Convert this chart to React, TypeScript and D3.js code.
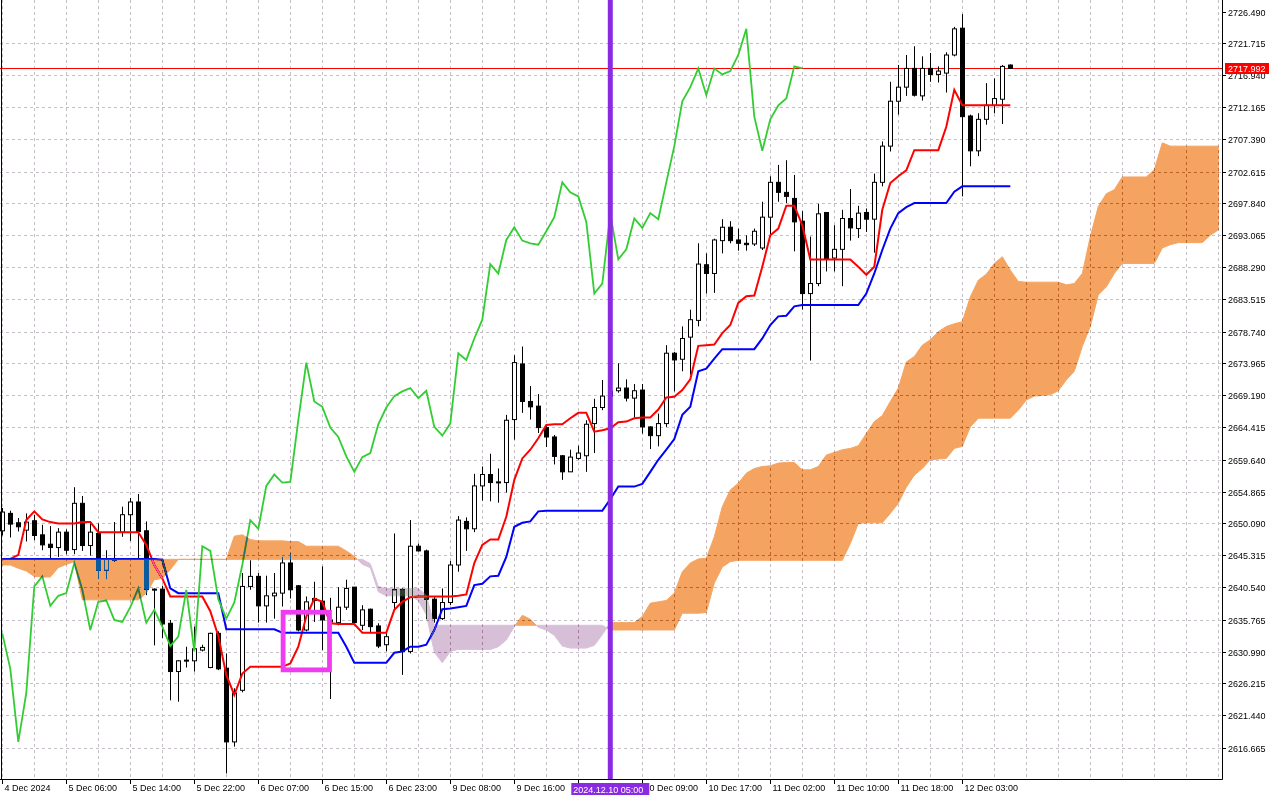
import * as d3 from "d3";
import React, { RefObject, useEffect, useRef } from "react";

// XAUUSD H1, bar 0 is the left edge of the chart
const opens = [
  2649.0, 2651.6, 2650.2, 2649.1, 2650.5, 2648.4, 2647.0, 2646.5, 2648.8, 2646.2,
  2653.1, 2646.8, 2648.6, 2643.1, 2644.6, 2648.8, 2651.4, 2653.3, 2649.0, 2640.3,
  2640.3, 2635.2, 2628.0, 2629.6, 2629.6, 2631.2, 2628.6, 2633.7, 2628.5, 2617.5,
  2625.2, 2640.7, 2642.2, 2637.8, 2639.3, 2639.7, 2644.2, 2640.8, 2634.2, 2638.9,
  2638.5, 2635.7, 2635.3, 2637.6, 2640.6, 2634.9, 2637.3, 2634.8, 2632.0, 2638.3,
  2640.2, 2631.0, 2646.7, 2646.0, 2638.8, 2635.9, 2638.3, 2643.9, 2650.4, 2649.3,
  2655.7, 2657.4, 2656.2, 2656.2, 2665.6, 2673.9, 2668.3, 2667.6, 2664.4, 2663.0,
  2660.2, 2657.8, 2659.8, 2660.2, 2665.0, 2667.4, 2669.1, 2669.9, 2670.3, 2668.8,
  2670.0, 2664.5, 2663.2, 2665.0, 2675.5, 2674.6, 2677.9, 2680.4, 2688.7, 2687.4,
  2692.3, 2694.3, 2692.4, 2691.9, 2691.8, 2691.2, 2695.8, 2701.0, 2699.5, 2698.6,
  2695.2, 2684.4, 2685.9, 2696.5, 2689.7, 2691.0, 2695.6, 2694.1, 2696.5, 2695.5,
  2701.0, 2706.4, 2713.1, 2715.2, 2718.0, 2713.9, 2718.0, 2717.1, 2717.3, 2720.0,
  2724.0, 2710.9, 2705.7, 2710.4, 2712.5, 2713.4, 2718.5,
];
const highs = [
  2652.4, 2652.0, 2650.9, 2651.6, 2651.4, 2649.9, 2649.7, 2649.4, 2649.2, 2655.5,
  2654.2, 2650.1, 2650.1, 2646.1, 2650.3, 2652.6, 2653.9, 2654.5, 2650.4, 2640.4,
  2640.8, 2635.7, 2629.7, 2631.7, 2634.7, 2632.0, 2633.8, 2634.0, 2630.7, 2625.5,
  2642.7, 2644.6, 2642.7, 2642.3, 2642.7, 2645.1, 2645.6, 2640.9, 2639.2, 2641.4,
  2643.7, 2639.0, 2640.6, 2641.7, 2640.6, 2637.9, 2637.4, 2635.2, 2633.8, 2648.6,
  2640.4, 2650.6, 2647.1, 2646.2, 2639.2, 2640.4, 2644.5, 2651.2, 2651.0, 2657.5,
  2658.6, 2660.5, 2658.3, 2666.3, 2675.2, 2676.5, 2670.6, 2669.4, 2664.8, 2663.3,
  2660.3, 2661.1, 2661.7, 2665.5, 2668.7, 2671.5, 2670.8, 2674.0, 2671.6, 2670.9,
  2670.9, 2664.6, 2666.5, 2676.7, 2675.7, 2679.5, 2682.0, 2691.9, 2690.4, 2692.6,
  2695.5, 2695.2, 2694.1, 2693.1, 2694.1, 2698.1, 2701.9, 2703.6, 2704.3, 2702.1,
  2696.7, 2692.9, 2697.8, 2696.5, 2694.6, 2696.9, 2700.0, 2697.5, 2697.1, 2702.3,
  2707.1, 2716.0, 2718.5, 2720.0, 2721.3, 2719.8, 2720.3, 2718.3, 2720.4, 2724.2,
  2726.1, 2711.1, 2711.3, 2715.8, 2716.5, 2718.5, 2718.6,
];
const lows = [
  2648.3, 2648.0, 2648.9, 2647.4, 2647.6, 2646.1, 2644.9, 2645.1, 2645.5, 2645.5,
  2646.0, 2645.3, 2641.8, 2641.8, 2644.4, 2648.1, 2647.5, 2644.7, 2639.4, 2631.9,
  2633.0, 2623.7, 2623.5, 2628.6, 2628.0, 2631.0, 2628.5, 2628.2, 2612.8, 2616.8,
  2624.9, 2640.2, 2635.3, 2635.3, 2635.9, 2637.7, 2638.9, 2634.0, 2634.0, 2635.4,
  2631.2, 2623.9, 2634.9, 2637.2, 2634.9, 2634.2, 2633.7, 2631.5, 2631.0, 2637.2,
  2627.5, 2630.7, 2645.9, 2635.8, 2635.3, 2635.7, 2637.9, 2642.9, 2646.0, 2648.8,
  2653.5, 2653.4, 2653.2, 2654.7, 2662.6, 2666.6, 2665.6, 2663.6, 2661.5, 2658.9,
  2656.6, 2657.8, 2659.6, 2657.8, 2660.6, 2667.0, 2668.2, 2669.6, 2668.3, 2665.9,
  2663.5, 2661.2, 2661.6, 2664.5, 2669.8, 2672.8, 2672.3, 2679.5, 2684.4, 2684.5,
  2690.4, 2691.9, 2690.8, 2690.8, 2691.5, 2690.9, 2693.1, 2698.1, 2697.9, 2690.7,
  2682.0, 2674.4, 2685.5, 2687.7, 2687.7, 2685.5, 2692.3, 2692.7, 2693.6, 2690.5,
  2700.4, 2705.6, 2711.1, 2713.9, 2713.8, 2713.2, 2716.0, 2715.9, 2714.4, 2719.8,
  2698.9, 2703.4, 2704.9, 2709.6, 2711.3, 2709.7, 2717.9,
];
const closes = [
  2651.8, 2650.0, 2649.6, 2650.3, 2648.3, 2646.9, 2646.5, 2648.8, 2646.1, 2653.1,
  2646.8, 2648.8, 2643.1, 2644.8, 2644.8, 2651.4, 2653.3, 2648.9, 2640.3, 2640.2,
  2635.1, 2628.0, 2629.6, 2629.7, 2631.4, 2631.6, 2633.7, 2628.4, 2617.5, 2624.8,
  2640.7, 2642.2, 2637.8, 2639.3, 2639.7, 2644.2, 2640.2, 2634.2, 2638.4, 2638.6,
  2635.7, 2635.4, 2637.6, 2640.4, 2635.3, 2637.2, 2634.7, 2631.8, 2633.2, 2640.2,
  2631.0, 2646.7, 2646.0, 2638.8, 2635.9, 2638.3, 2643.9, 2650.6, 2649.3, 2655.7,
  2657.4, 2656.2, 2656.3, 2665.5, 2674.1, 2668.3, 2667.5, 2664.4, 2663.0, 2660.1,
  2657.8, 2660.0, 2660.6, 2664.9, 2667.4, 2669.1, 2669.8, 2670.3, 2668.8, 2669.9,
  2664.5, 2663.2, 2665.0, 2675.5, 2674.5, 2677.7, 2680.5, 2688.8, 2687.4, 2692.4,
  2694.3, 2692.3, 2691.9, 2691.7, 2693.7, 2695.8, 2701.0, 2699.5, 2698.9, 2695.1,
  2684.4, 2685.9, 2696.3, 2689.5, 2691.0, 2695.6, 2694.2, 2696.4, 2695.5, 2701.0,
  2706.4, 2713.1, 2715.2, 2718.0, 2714.0, 2718.0, 2717.1, 2717.6, 2720.0, 2723.9,
  2710.8, 2705.7, 2710.4, 2712.5, 2713.5, 2718.3, 2717.992,
];

// Tenkan-sen (red) and Kijun-sen (blue), one value per bar
const tenkan = [
  2644.8, 2644.8, 2645.4, 2650.6, 2651.9, 2650.7, 2650.3, 2650.1, 2650.1, 2650.1,
  2650.3, 2650.3, 2648.8, 2648.8, 2648.8, 2648.8, 2648.8, 2648.8, 2646.9, 2643.9,
  2641.9, 2639.2, 2639.2, 2639.2, 2639.2, 2639.2, 2637.0, 2633.3, 2627.5, 2624.5,
  2627.7, 2628.7, 2628.7, 2628.7, 2628.7, 2628.7, 2629.2, 2631.7, 2636.2, 2638.9,
  2638.4, 2635.2, 2635.1, 2635.1, 2635.1, 2633.8, 2633.8, 2633.8, 2633.8, 2637.2,
  2638.4, 2639.1, 2639.2, 2639.2, 2639.2, 2639.2, 2639.2, 2639.3, 2639.5, 2644.2,
  2646.9, 2647.7, 2647.7, 2651.1, 2656.6, 2659.8, 2661.1, 2662.8, 2664.8, 2664.9,
  2664.9, 2665.8, 2666.6, 2666.6, 2663.8, 2664.0, 2664.3, 2665.2, 2665.3, 2665.8,
  2665.9, 2665.9, 2667.1, 2668.9, 2669.0, 2670.0, 2671.6, 2676.6, 2676.7, 2676.8,
  2678.5, 2679.7, 2683.0, 2684.0, 2684.1, 2688.4, 2693.1, 2694.1, 2697.5, 2697.5,
  2694.6, 2689.5, 2689.5, 2689.5, 2689.5, 2689.5, 2689.5, 2688.4, 2687.2, 2688.4,
  2696.9, 2700.9, 2701.9, 2702.8, 2705.8, 2705.8, 2705.8, 2705.8, 2709.3, 2714.8,
  2712.5, 2712.5, 2712.5, 2712.5, 2712.5, 2712.5, 2712.5,
];
const kijun = [
  2644.8, 2644.8, 2644.8, 2644.8, 2644.8, 2644.8, 2644.8, 2644.8, 2644.8, 2644.8,
  2644.8, 2644.8, 2644.8, 2644.8, 2644.8, 2644.8, 2644.8, 2644.8, 2644.8, 2644.8,
  2644.7, 2640.4, 2639.7, 2639.7, 2639.7, 2639.7, 2639.7, 2639.7, 2634.3, 2634.3,
  2634.3, 2634.3, 2634.3, 2634.3, 2634.3, 2633.8, 2633.8, 2633.8, 2633.8, 2633.8,
  2633.8, 2633.8, 2633.8, 2631.7, 2629.3, 2629.3, 2629.3, 2629.3, 2629.3, 2630.8,
  2631.0, 2631.7, 2631.7, 2632.0, 2634.2, 2637.3, 2637.4, 2637.6, 2637.8, 2640.9,
  2641.1, 2642.2, 2642.3, 2645.1, 2649.6, 2650.2, 2650.4, 2651.9, 2652.0, 2652.0,
  2652.0, 2652.0, 2652.0, 2652.0, 2652.0, 2652.0, 2653.7, 2655.6, 2655.6, 2655.6,
  2656.0, 2657.8, 2659.6, 2661.1, 2662.7, 2666.3, 2667.5, 2672.8, 2673.2, 2674.7,
  2676.1, 2676.1, 2676.1, 2676.1, 2676.1, 2677.7, 2679.7, 2681.0, 2681.1, 2682.5,
  2682.7, 2682.7, 2682.7, 2682.7, 2682.7, 2682.7, 2682.7, 2682.7, 2684.4, 2687.4,
  2690.9, 2694.1, 2696.4, 2697.3, 2697.9, 2697.9, 2697.9, 2697.9, 2697.9, 2699.6,
  2700.4, 2700.4, 2700.4, 2700.4, 2700.4, 2700.4, 2700.4,
];

// Senkou spans, already shifted 26 bars ahead (153 values)
const spanA = [
  2644.74, 2644.74, 2644.74, 2644.74, 2644.74, 2644.74, 2644.74, 2644.74, 2644.74, 2644.74,
  2644.74, 2644.74, 2644.74, 2644.74, 2644.74, 2644.74, 2644.74, 2644.74, 2644.74, 2644.74,
  2644.74, 2644.74, 2644.74, 2644.74, 2644.74, 2644.74, 2644.74, 2644.74, 2644.74, 2648.2,
  2648.4, 2647.7, 2647.5, 2647.5, 2647.5, 2647.5, 2647.4, 2647.4, 2646.7, 2646.7,
  2646.7, 2646.7, 2646.7, 2646.0, 2645.2, 2644.0, 2643.5, 2639.9, 2639.3, 2639.3,
  2639.3, 2639.3, 2638.6, 2636.5, 2630.9, 2629.3, 2631.0, 2631.3, 2631.3, 2631.3,
  2631.3, 2631.3, 2631.7, 2632.7, 2634.7, 2636.4, 2635.8, 2634.6, 2634.2, 2633.4,
  2631.8, 2631.5, 2631.5, 2631.5, 2631.9, 2633.5, 2635.3, 2635.3, 2635.3, 2635.3,
  2636.2, 2638.2, 2638.4, 2638.6, 2639.7, 2642.9, 2644.2, 2644.8, 2644.9, 2648.1,
  2652.6, 2655.1, 2656.1, 2657.6, 2658.3, 2658.6, 2658.7, 2659.1, 2659.2, 2659.2,
  2658.1, 2658.1, 2658.6, 2660.3, 2660.7, 2661.1, 2661.3, 2661.7, 2663.5, 2665.3,
  2666.2, 2668.3, 2670.3, 2674.2, 2675.0, 2676.7, 2677.5, 2678.7, 2679.5, 2679.9,
  2680.2, 2683.9, 2686.4, 2687.3, 2688.9, 2689.9, 2687.9, 2686.2, 2686.1, 2686.1,
  2686.1, 2686.1, 2686.1, 2685.7, 2685.9, 2687.4, 2692.9, 2697.4, 2699.3, 2699.9,
  2701.8, 2701.8, 2701.8, 2701.8, 2702.9, 2706.9, 2706.4, 2706.4, 2706.4, 2706.4,
  2706.4, 2706.4, 2706.4,
];
const spanB = [
  2643.9, 2643.9, 2643.4, 2643.0, 2642.2, 2642.1, 2642.1, 2643.5, 2644.0, 2644.4,
  2638.7, 2638.7, 2638.7, 2638.7, 2638.7, 2638.7, 2638.7, 2638.7, 2639.7, 2641.7,
  2641.9, 2643.2, 2644.74, 2644.74, 2644.74, 2644.74, 2644.74, 2644.74, 2644.74, 2644.74,
  2644.74, 2644.74, 2644.74, 2644.74, 2644.74, 2644.74, 2644.74, 2644.74, 2644.74, 2644.74,
  2644.74, 2644.74, 2644.74, 2644.74, 2644.74, 2644.74, 2644.1, 2640.7, 2640.4, 2640.4,
  2640.4, 2640.4, 2640.4, 2639.4, 2634.9, 2634.9, 2634.9, 2634.9, 2634.9, 2634.9,
  2634.9, 2634.9, 2634.9, 2634.9, 2634.9, 2634.9, 2634.9, 2634.9, 2634.9, 2634.9,
  2634.9, 2634.9, 2634.9, 2634.9, 2634.9, 2634.9, 2634.2, 2634.2, 2634.2, 2634.2,
  2634.2, 2634.2, 2634.2, 2634.2, 2634.2, 2636.7, 2636.7, 2636.7, 2636.8, 2641.2,
  2643.6, 2644.4, 2644.6, 2644.6, 2644.6, 2644.6, 2644.6, 2644.6, 2644.6, 2644.6,
  2644.6, 2644.6, 2644.6, 2644.6, 2644.6, 2644.6, 2647.1, 2650.1, 2650.2, 2650.2,
  2650.2, 2651.6, 2653.1, 2655.5, 2657.3, 2658.3, 2659.6, 2659.7, 2659.8, 2661.3,
  2661.6, 2664.5, 2665.8, 2665.8, 2665.8, 2665.8, 2665.8, 2667.0, 2668.5, 2669.1,
  2669.2, 2669.3, 2669.9, 2671.5, 2672.8, 2676.5, 2679.5, 2684.2, 2685.4, 2687.4,
  2688.9, 2688.9, 2688.9, 2688.9, 2688.9, 2691.2, 2691.7, 2692.0, 2692.0, 2692.0,
  2692.0, 2693.1, 2693.9,
];

const chikouShift = 26;

const priceTicks = [
  "2616.665", "2621.440", "2626.215", "2630.990", "2635.765", "2640.540",
  "2645.315", "2650.090", "2654.865", "2659.640", "2664.415", "2669.190",
  "2673.965", "2678.740", "2683.515", "2688.290", "2693.065", "2697.840",
  "2702.615", "2707.390", "2712.165", "2716.940", "2721.715", "2726.490",
];
// one tick every 8 bars; the tick under the cursor tag has no visible label
const timeLabels = [
  "4 Dec 2024", "5 Dec 06:00", "5 Dec 14:00", "5 Dec 22:00", "6 Dec 07:00",
  "6 Dec 15:00", "6 Dec 23:00", "9 Dec 08:00", "9 Dec 16:00", "",
  "10 Dec 09:00", "10 Dec 17:00", "11 Dec 02:00", "11 Dec 10:00", "11 Dec 18:00",
  "12 Dec 03:00",
];

const lastPrice = 2717.992;
const cursorBar = 76;
const cursorLabel = "2024.12.10 05:00";
// magenta box drawn on the chart (bars / prices)
const boxBars = [35.1, 40.9];
const boxPrices = [2636.85, 2628.25];

type CloudPt = { i: number; a: number; b: number };

const cloudRuns = () => {
  const runs: { up: boolean; pts: CloudPt[] }[] = [];
  let cur: { up: boolean; pts: CloudPt[] } | null = null;
  for (let i = 0; i < spanA.length; i++) {
    const up = spanA[i] >= spanB[i];
    if (!cur || cur.up !== up) {
      if (cur) {
        const d0 = spanA[i - 1] - spanB[i - 1];
        const d1 = spanA[i] - spanB[i];
        const t = d0 / (d0 - d1);
        const v = spanA[i - 1] + t * (spanA[i] - spanA[i - 1]);
        const p = { i: i - 1 + t, a: v, b: v };
        cur.pts.push(p);
        cur = { up, pts: [p] };
      } else {
        cur = { up, pts: [] };
      }
      runs.push(cur);
    }
    cur.pts.push({ i, a: spanA[i], b: spanB[i] });
  }
  return runs;
};

const IchimokuChart = () => {
  const d3Ref: RefObject<HTMLDivElement> = useRef(null);
  const width = 1280;
  const height = 800;
  const plotRight = 1222;
  const plotBottom = 779;

  const drawChart = () => {
    const root = d3.select(d3Ref.current);
    root.selectAll("*").remove();
    const svg = root
      .append("svg")
      .attr("width", width)
      .attr("height", height)
      .style("display", "block")
      .attr("font-family", "'Liberation Sans', Arial, sans-serif")
      .attr("font-size", 9);

    const xScale = d3.scaleLinear().domain([0, spanA.length - 1]).range([2.3, 1218.3]);
    const yScale = d3.scaleLinear().domain([2616.665, 2726.49]).range([747.5, 11.5]);
    const px = (i: number) => Math.round(xScale(i)) + 0.5;

    svg.append("rect").attr("width", width).attr("height", height).attr("fill", "#ffffff");

    // grid
    const grid = svg
      .append("g")
      .attr("stroke", "#c6bec6")
      .attr("stroke-width", 1)
      .attr("stroke-dasharray", "3,3");
    d3.range(0, spanA.length, 4).forEach((i) => {
      grid.append("line").attr("x1", px(i)).attr("x2", px(i)).attr("y1", 0).attr("y2", plotBottom);
    });
    priceTicks.slice(0, -1).forEach((t) => {
      const y = Math.round(yScale(+t)) + 0.5;
      grid.append("line").attr("x1", 0).attr("x2", plotRight).attr("y1", y).attr("y2", y);
    });

    // bid line
    const yLast = Math.round(yScale(lastPrice)) + 0.5;
    svg.append("line").attr("x1", 0).attr("x2", plotRight).attr("y1", yLast).attr("y2", yLast)
      .attr("stroke", "#ff0000").attr("stroke-width", 1);

    // candles
    const candles = svg.append("g");
    opens.forEach((o, i) => {
      const c = closes[i];
      const x = px(i);
      candles.append("line").attr("x1", x).attr("x2", x)
        .attr("y1", yScale(highs[i])).attr("y2", yScale(lows[i]))
        .attr("stroke", "#000").attr("stroke-width", 1);
      const top = yScale(Math.max(o, c));
      const bh = Math.max(yScale(Math.min(o, c)) - top, 1);
      candles.append("rect").attr("x", x - 2).attr("y", top).attr("width", 4).attr("height", bh)
        .attr("fill", c >= o ? "#ffffff" : "#000000").attr("stroke", "#000").attr("stroke-width", 1);
    });

    // ichimoku lines
    const line = d3.line<number>((d, k) => xScale(k), (d) => yScale(d));
    svg.append("path").datum(tenkan).attr("fill", "none").attr("stroke", "#ff0000")
      .attr("stroke-width", 2).attr("d", line);
    svg.append("path").datum(kijun).attr("fill", "none").attr("stroke", "#0000ff")
      .attr("stroke-width", 2).attr("d", line);
    svg.append("path").datum(closes.slice(chikouShift)).attr("fill", "none").attr("stroke", "#32cd32")
      .attr("stroke-width", 1.8).attr("d", line);

    // kumo, inverted colours with difference blending (sandybrown / thistle on white)
    const cloud = svg.append("g").style("mix-blend-mode", "difference");
    const area = d3.area<CloudPt>()
      .x((p) => xScale(p.i))
      .y0((p) => yScale(p.b))
      .y1((p) => yScale(p.a));
    cloudRuns().forEach((r) => {
      const col = r.up ? "rgb(11,91,159)" : "rgb(39,64,39)";
      cloud.append("path").attr("d", area(r.pts)).attr("fill", col)
        .attr("stroke", col).attr("stroke-width", 1);
    });

    // vertical cursor line
    svg.append("line").attr("x1", xScale(cursorBar)).attr("x2", xScale(cursorBar))
      .attr("y1", 0).attr("y2", plotBottom).attr("stroke", "#8a2be2").attr("stroke-width", 5);

    // magenta box
    svg.append("rect")
      .attr("x", xScale(boxBars[0])).attr("y", yScale(boxPrices[0]))
      .attr("width", xScale(boxBars[1]) - xScale(boxBars[0]))
      .attr("height", yScale(boxPrices[1]) - yScale(boxPrices[0]))
      .attr("fill", "none").attr("stroke", "#f03cf0").attr("stroke-width", 4.8);

    // frame / axes
    const axes = svg.append("g").attr("stroke", "#000").attr("stroke-width", 1);
    axes.append("line").attr("x1", 1.5).attr("x2", 1.5).attr("y1", 0).attr("y2", plotBottom);
    axes.append("line").attr("x1", 0).attr("x2", plotRight + 0.5).attr("y1", plotBottom + 0.5).attr("y2", plotBottom + 0.5);
    axes.append("line").attr("x1", plotRight + 0.5).attr("x2", plotRight + 0.5).attr("y1", 0).attr("y2", plotBottom + 0.5);

    priceTicks.forEach((t) => {
      const y = Math.round(yScale(+t)) + 0.5;
      axes.append("line").attr("x1", plotRight).attr("x2", plotRight + 4).attr("y1", y).attr("y2", y);
      svg.append("text").attr("x", plotRight + 6).attr("y", y).attr("dy", "0.35em")
        .attr("fill", "#000").text(t);
    });

    timeLabels.forEach((t, j) => {
      const x = px(j * 8);
      axes.append("line").attr("x1", x).attr("x2", x).attr("y1", plotBottom).attr("y2", plotBottom + 5);
      if (t) svg.append("text").attr("x", x + 2).attr("y", 791).attr("fill", "#000").text(t);
    });

    // last price tag
    svg.append("rect").attr("x", plotRight + 3).attr("y", yLast - 5.5).attr("width", 44).attr("height", 11)
      .attr("fill", "#ff0000");
    svg.append("text").attr("x", plotRight + 6).attr("y", yLast).attr("dy", "0.35em")
      .attr("fill", "#ffffff").text(lastPrice.toFixed(3));

    // cursor time tag
    const cx = xScale(cursorBar);
    svg.append("rect").attr("x", cx - 39).attr("y", 783).attr("width", 78).attr("height", 12)
      .attr("fill", "#8a2be2");
    svg.append("text").attr("x", cx - 37).attr("y", 792.5).attr("fill", "#ffffff").text(cursorLabel);
  };

  useEffect(() => {
    document.body.style.margin = "0";
    drawChart();
  }, [d3Ref]);

  return (
    <>
      <div ref={d3Ref} />
    </>
  );
};

export default IchimokuChart;
